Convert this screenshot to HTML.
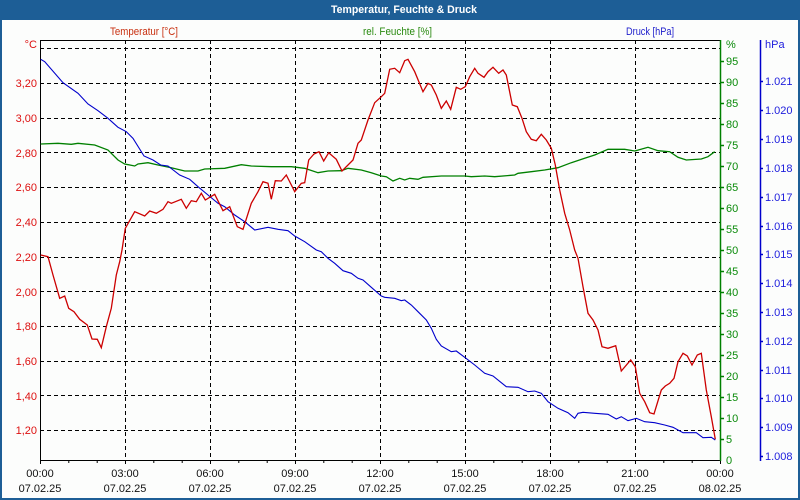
<!DOCTYPE html>
<html><head><meta charset="utf-8"><style>
html,body{margin:0;padding:0;background:#fff;}
svg{display:block;}
text{font-family:"Liberation Sans",Arial,sans-serif;font-size:11px;}
</style></head><body>
<svg width="800" height="500" viewBox="0 0 800 500" xmlns="http://www.w3.org/2000/svg">
<rect x="0" y="0" width="800" height="500" fill="#fcfdfc"/>
<rect x="0" y="0" width="800" height="20" fill="#1d5e96"/>
<rect x="1" y="1" width="798" height="498" fill="none" stroke="#1d5e96" stroke-width="2"/>
<text x="404" y="13" fill="#fff" font-weight="bold" text-anchor="middle" textLength="146" lengthAdjust="spacingAndGlyphs">Temperatur, Feuchte &amp; Druck</text>

<text x="110" y="35" fill="#c83010" textLength="68" lengthAdjust="spacingAndGlyphs">Temperatur [°C]</text>
<text x="363" y="35" fill="#2a8a10" textLength="69" lengthAdjust="spacingAndGlyphs">rel. Feuchte [%]</text>
<text x="626" y="35" fill="#2020cc" textLength="48" lengthAdjust="spacingAndGlyphs">Druck [hPa]</text>

<g stroke="#000" stroke-width="1" stroke-dasharray="4,3" fill="none">
<path d="M40 48.5H720M40 83.5H720M40 118.5H720M40 152.5H720M40 187.5H720M40 222.5H720M40 257.5H720M40 291.5H720M40 326.5H720M40 361.5H720M40 395.5H720M40 430.5H720"/>
<path d="M125.5 40V460M210.5 40V460M295.5 40V460M380.5 40V460M465.5 40V460M550.5 40V460M635.5 40V460"/>
</g>

<g stroke="#000" stroke-width="1" fill="none">
<path d="M40.5 40V460.5M40 40.5H720M40 460.5H720"/>
<path d="M40.5 460V464M68.8 460V463M97.2 460V463M125.5 460V464M153.8 460V463M182.2 460V463M210.5 460V464M238.8 460V463M267.2 460V463M295.5 460V464M323.8 460V463M352.2 460V463M380.5 460V464M408.8 460V463M437.2 460V463M465.5 460V464M493.8 460V463M522.2 460V463M550.5 460V464M578.8 460V463M607.2 460V463M635.5 460V464M663.8 460V463M692.2 460V463M720.5 460V464"/>
</g>

<g stroke="#008000" stroke-width="1.5" fill="none">
<path d="M720.5 40V461"/>
<path d="M720 439.5h4M720 418.5h4M720 397.5h4M720 376.5h4M720 355.5h4M720 334.5h4M720 313.5h4M720 292.5h4M720 271.5h4M720 250.5h4M720 229.5h4M720 208.5h4M720 187.5h4M720 166.5h4M720 145.5h4M720 124.5h4M720 103.5h4M720 82.5h4M720 61.5h4"/>
</g>
<g fill="#0a8a0a">
<text x="726" y="48">%</text>
<text x="726" y="65">95</text><text x="726" y="86">90</text><text x="726" y="107">85</text><text x="726" y="128">80</text>
<text x="726" y="149">75</text><text x="726" y="170">70</text><text x="726" y="191">65</text><text x="726" y="212">60</text>
<text x="726" y="233">55</text><text x="726" y="254">50</text><text x="726" y="275">45</text><text x="726" y="296">40</text>
<text x="726" y="317">35</text><text x="726" y="338">30</text><text x="726" y="359">25</text><text x="726" y="380">20</text>
<text x="726" y="401">15</text><text x="726" y="422">10</text><text x="726" y="443">5</text><text x="726" y="464">0</text>
</g>

<g stroke="#0000cc" stroke-width="1.5" fill="none">
<path d="M760.5 40V461"/>
<path d="M760 81.5h3M760 110.5h3M760 139.5h3M760 168.5h3M760 197.5h3M760 226.5h3M760 254.5h3M760 283.5h3M760 312.5h3M760 341.5h3M760 370.5h3M760 398.5h3M760 427.5h3M760 456.5h3"/>
</g>
<g fill="#2020dd">
<text x="765" y="48">hPa</text>
<text x="765" y="85">1.021</text><text x="765" y="114">1.020</text><text x="765" y="143">1.019</text><text x="765" y="172">1.018</text>
<text x="765" y="201">1.017</text><text x="765" y="230">1.016</text><text x="765" y="258">1.015</text><text x="765" y="287">1.014</text>
<text x="765" y="316">1.013</text><text x="765" y="345">1.012</text><text x="765" y="374">1.011</text><text x="765" y="402">1.010</text>
<text x="765" y="431">1.009</text><text x="765" y="460">1.008</text>
</g>

<g fill="#dd1010" text-anchor="end">
<text x="37" y="48">°C</text>
<text x="37" y="87">3,20</text><text x="37" y="122">3,00</text><text x="37" y="157">2,80</text><text x="37" y="191">2,60</text>
<text x="37" y="226">2,40</text><text x="37" y="261">2,20</text><text x="37" y="296">2,00</text><text x="37" y="330">1,80</text>
<text x="37" y="365">1,60</text><text x="37" y="400">1,40</text><text x="37" y="434">1,20</text>
</g>

<g fill="#111" text-anchor="middle">
<text x="40" y="477">00:00</text><text x="40" y="492">07.02.25</text>
<text x="125" y="477">03:00</text><text x="125" y="492">07.02.25</text>
<text x="210" y="477">06:00</text><text x="210" y="492">07.02.25</text>
<text x="295" y="477">09:00</text><text x="295" y="492">07.02.25</text>
<text x="380" y="477">12:00</text><text x="380" y="492">07.02.25</text>
<text x="465" y="477">15:00</text><text x="465" y="492">07.02.25</text>
<text x="550" y="477">18:00</text><text x="550" y="492">07.02.25</text>
<text x="635" y="477">21:00</text><text x="635" y="492">07.02.25</text>
<text x="720" y="477">00:00</text><text x="720" y="492">08.02.25</text>
</g>

<polyline fill="none" stroke="#008000" stroke-width="1.3" points="40.7,144 58,143.3 71.3,144.3 78,143.3 94.7,145 108,150 118,160 124.7,164 134.7,166 138,164 148,162.7 158,165 171.3,167.7 184.7,171 198,171 204.7,169 224.7,168.3 241.3,164.7 251.3,166 271.3,166.7 291.3,166.7 304.7,168.3 318,172.7 328,171 341.3,170.7 348,168.3 361.3,170 371.3,172.7 381.3,176 386.3,176.7 393,181 399.7,178.3 404.7,180 409.7,178.3 418,179.3 423,177.3 441.3,176 464.7,176 471.3,176.7 484.7,176 494.7,176.7 514.7,175 518,173.3 531.3,171.7 544.7,170 558,167.7 571.3,162.7 584.7,158.3 594.7,155 608,149.3 624.7,149.3 634.7,151 648,147.3 658,150.7 669.7,151.7 678,157.3 686.3,160 701.3,159 708,156.7 714.7,151.7"/>

<polyline fill="none" stroke="#0000cc" stroke-width="1.1" points="40.7,59.3 44.7,61.7 63,82.7 78,93.3 88,104 98,110.7 108,118.3 118,127.3 126.3,131.7 133,138.3 144,156 153,160 160.7,165 168,166 179.7,175 189.7,179.3 198,186.7 208,195 218,203.3 224.7,206.7 234.7,215 244.7,221.7 254.7,230 268,227.3 278,229.3 288,230.7 294.7,236 304.7,241.7 316.3,250 321.3,251.7 328,258.3 334.7,263.3 343,270.7 351.3,273.3 358,278.3 363,280 371.3,287.3 381.3,296 384.7,297.3 394.7,298.3 401.3,300.7 404.7,300 411.3,305 418,311.7 426.3,320 431.3,328.3 436.3,339.3 441.3,346 451.3,351.7 456.3,351 464.7,357.3 474.7,365 484.7,373.3 493,376 506.3,386.7 518,387.3 528,391.7 534.7,391 541.3,393.3 548,401.7 558,408.3 568,412.7 574.7,418.3 578,413.3 583,412.3 594.7,413.3 608,414.3 616.3,419 621.3,416.7 628,420.7 636.3,418.3 644.7,421.7 654.7,422.7 664.7,425 673,427.3 683,432.7 696.3,432.7 703,437.7 711.3,437.3 715.3,440"/>

<polyline fill="none" stroke="#cc0000" stroke-width="1.3" points="40.7,255 48,256.7 53,275 59.7,298.3 64.7,296 68.7,308.3 74,311.7 79.7,319.3 87.3,325 92,339 97.3,339.3 101.3,347.7 106.3,326.7 111.3,308.3 116.3,275 119.7,261.7 122,250 125.3,228.3 134.7,211.7 144.7,216 149.7,211 156.3,213.3 163,209.3 168,201.7 171.3,203.3 181.3,199.3 186.3,208.3 191.3,200.7 196.3,201.7 201.3,193.3 205.3,200 214.7,194.3 223,210.7 229.7,206.7 237.3,226.7 243,229.3 251.3,203.3 258,191.7 263,181.7 268,183.3 271.3,199.3 275.3,180.7 281.3,181 286.3,175 294.7,191.7 301.3,183.3 304.7,182.7 308.7,160 314,154 319,151.7 323.7,161 328.7,152.7 336.3,159.3 342,171 353,160 358,143.3 361.3,140 368,120 374.7,102.7 381.3,96.7 384.7,93.3 389.7,69.3 394.7,68.3 399.7,72.7 404.7,60.7 408,59.3 414.7,71.7 423,91.7 428,83.3 431.3,85 436.3,95 441.3,108.3 446.3,101 450.7,109.3 456.3,87.3 460.7,89.3 465.3,86.7 469.7,76.7 474.7,68.3 478,73.3 484,77.3 488,71.7 493,67.3 498.7,73.3 503,70 506.3,75 512.3,105 517.3,106.7 522,118.3 526.3,131.7 531.3,139.3 536.3,140.7 541.3,134.3 546.3,140 551.3,148.3 555.3,165 559.7,190 564.7,213.3 569.7,230 574.7,250 578,258.3 583,286.7 588,313.3 593,320 598,330 602,346.7 608,348.3 615.7,345.7 621.3,371 630.7,360 635.3,366.7 639.7,393.3 644.7,401.7 649.7,412.7 654,414 661.3,390 665.3,386 669.7,383.3 674,378.3 678,361.7 683,353.3 687.3,356 692,365 697.3,355 701.3,353.3 706.3,390 711.3,416.7 715.3,439.3"/>
</svg>
</body></html>
